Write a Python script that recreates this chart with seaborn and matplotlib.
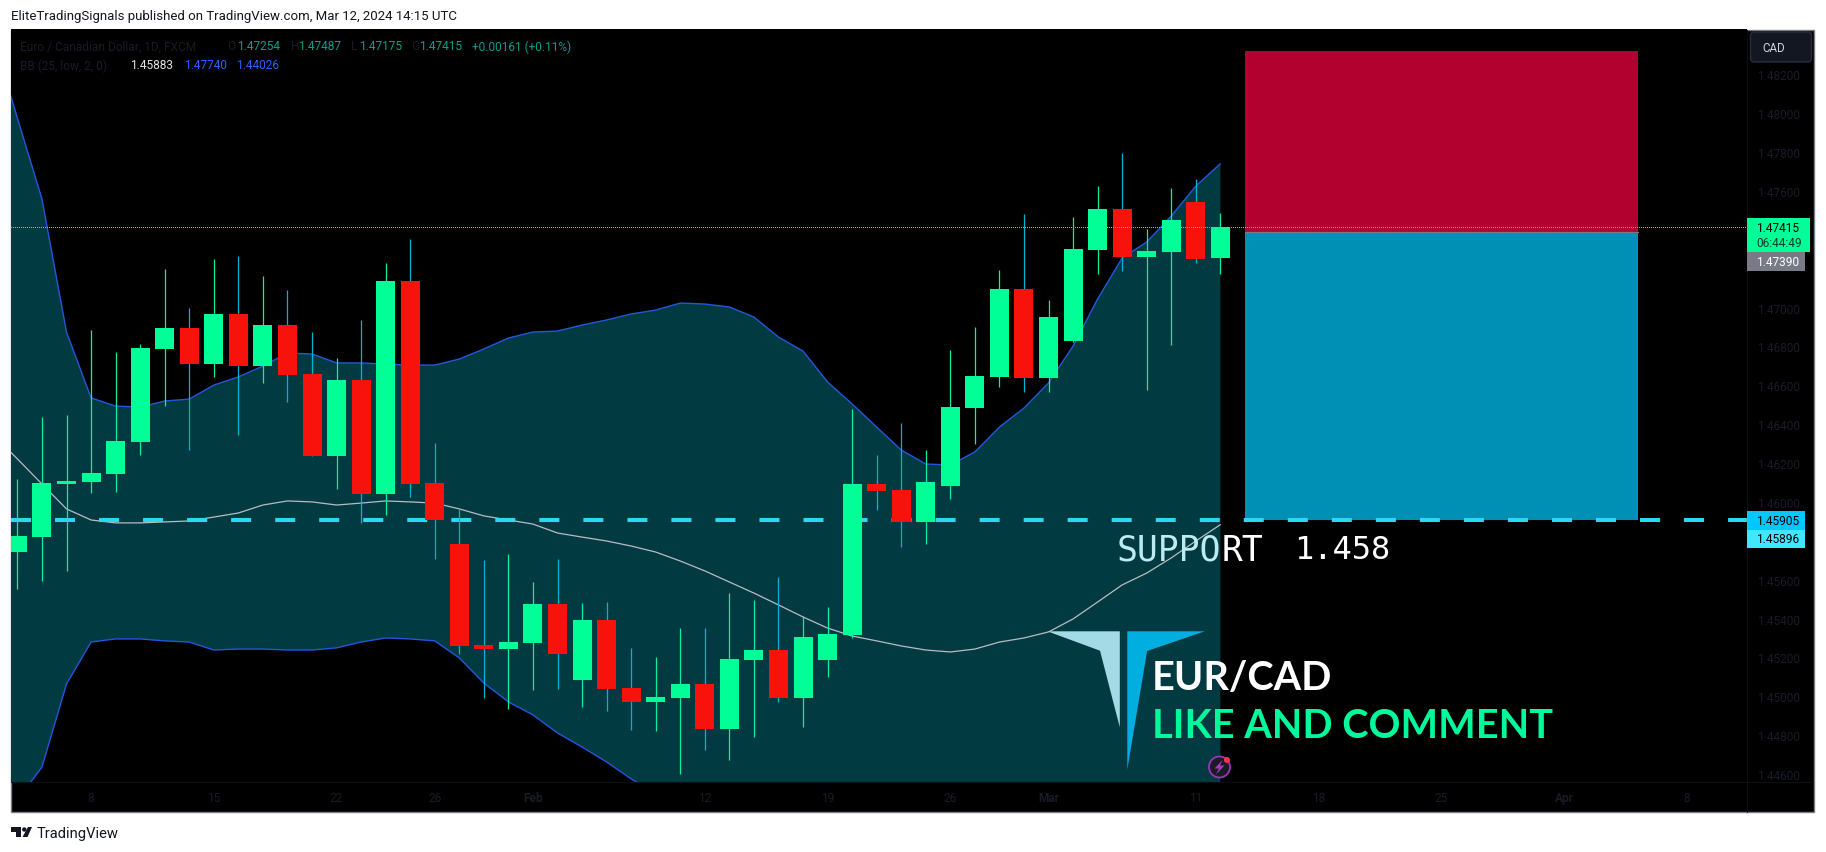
import matplotlib
matplotlib.use('Agg')
import numpy as np
import seaborn as sns
import matplotlib.pyplot as plt
from matplotlib.patches import Rectangle, Polygon, Circle, FancyBboxPatch
from matplotlib.transforms import Affine2D

# daily candles, Jan 3 to Mar 12 2024
opens = [1.45744, 1.45821, 1.46092, 1.46102, 1.46144, 1.46308, 1.46787, 1.46895, 1.46710, 1.46967,
         1.46700, 1.46910, 1.46658, 1.46236, 1.46627, 1.46041, 1.47137, 1.46097, 1.45784, 1.45264,
         1.45244, 1.45275, 1.45475, 1.45084, 1.45393, 1.45043, 1.44971, 1.44991, 1.45063, 1.44832,
         1.45187, 1.45238, 1.44991, 1.45187, 1.45315, 1.46092, 1.46061, 1.45897, 1.46082, 1.46483,
         1.46643, 1.47095, 1.46637, 1.46828, 1.47296, 1.47507, 1.47260, 1.47286, 1.47543, 1.47254]
highs = [1.46117, 1.46436, 1.46447, 1.46885, 1.46771, 1.46813, 1.47198, 1.46998, 1.47249, 1.47264,
         1.47162, 1.47090, 1.46874, 1.46740, 1.46936, 1.47229, 1.47352, 1.46303, 1.45964, 1.45702,
         1.45733, 1.45588, 1.45707, 1.45480, 1.45486, 1.45249, 1.45203, 1.45352, 1.45352, 1.45532,
         1.45496, 1.45614, 1.45413, 1.45460, 1.46478, 1.46241, 1.46406, 1.46267, 1.46781, 1.46900,
         1.47193, 1.47481, 1.47039, 1.47466, 1.47625, 1.47795, 1.47404, 1.47615, 1.47661, 1.47487]
lows = [1.45552, 1.45594, 1.45645, 1.46046, 1.46051, 1.46241, 1.46493, 1.46267, 1.46642, 1.46344,
        1.46611, 1.46514, 1.46236, 1.46066, 1.45892, 1.45933, 1.46025, 1.45707, 1.45218, 1.44991,
        1.44935, 1.45032, 1.45037, 1.44945, 1.44924, 1.44827, 1.44821, 1.44600, 1.44723, 1.44672,
        1.44791, 1.44971, 1.44842, 1.45099, 1.45300, 1.45958, 1.45768, 1.45784, 1.46015, 1.46298,
        1.46591, 1.46565, 1.46565, 1.46823, 1.47172, 1.47188, 1.46576, 1.46807, 1.47229, 1.47175]
closes = [1.45827, 1.46097, 1.46108, 1.46149, 1.46313, 1.46792, 1.46895, 1.46710, 1.46967, 1.46700,
          1.46910, 1.46653, 1.46236, 1.46627, 1.46041, 1.47137, 1.46092, 1.45907, 1.45259, 1.45244,
          1.45280, 1.45475, 1.45218, 1.45393, 1.45037, 1.44971, 1.44996, 1.45063, 1.44832, 1.45192,
          1.45238, 1.44991, 1.45305, 1.45321, 1.46092, 1.46056, 1.45897, 1.46102, 1.46488, 1.46648,
          1.47095, 1.46637, 1.46951, 1.47301, 1.47507, 1.47260, 1.47291, 1.47450, 1.47249, 1.47415]

# bollinger bands, first point sits one bar left of the pane
bb_upper = [1.48392, 1.47975, 1.47558, 1.46874, 1.46535, 1.46493, 1.46488, 1.46519, 1.46529, 1.46601,
            1.46643, 1.46699, 1.46766, 1.46761, 1.46715, 1.46715, 1.46709, 1.46704, 1.46704, 1.46735,
            1.46787, 1.46843, 1.46874, 1.46879, 1.46910, 1.46936, 1.46967, 1.46987, 1.47023, 1.47018,
            1.47003, 1.46951, 1.46848, 1.46776, 1.46617, 1.46504, 1.46385, 1.46267, 1.46195, 1.46190,
            1.46257, 1.46385, 1.46483, 1.46612, 1.46802, 1.47044, 1.47255, 1.47337, 1.47471, 1.47625, 1.47740]
bb_basis = [1.46349, 1.46221, 1.46092, 1.45964, 1.45907, 1.45892, 1.45892, 1.45897, 1.45902, 1.45922,
            1.45943, 1.45984, 1.46005, 1.46000, 1.45984, 1.45994, 1.46005, 1.46000, 1.45994, 1.45964,
            1.45928, 1.45907, 1.45886, 1.45840, 1.45819, 1.45799, 1.45773, 1.45742, 1.45696, 1.45645,
            1.45588, 1.45531, 1.45470, 1.45408, 1.45351, 1.45310, 1.45285, 1.45259, 1.45238, 1.45228,
            1.45243, 1.45279, 1.45300, 1.45331, 1.45398, 1.45485, 1.45573, 1.45634, 1.45712, 1.45799, 1.45883]
bb_lower = [1.44307, 1.44467, 1.44636, 1.45063, 1.45279, 1.45295, 1.45295, 1.45285, 1.45279, 1.45238,
            1.45243, 1.45243, 1.45238, 1.45238, 1.45249, 1.45279, 1.45300, 1.45295, 1.45285, 1.45197,
            1.45068, 1.44971, 1.44904, 1.44811, 1.44739, 1.44662, 1.44575, 1.44497, 1.44369, 1.44271,
            1.44173, 1.44112, 1.44091, 1.44040, 1.44086, 1.44117, 1.44184, 1.44251, 1.44282, 1.44266,
            1.44230, 1.44173, 1.44117, 1.44050, 1.43993, 1.43926, 1.43890, 1.43932, 1.43952, 1.43973, 1.44026]

last_price = 1.47415
entry_price = 1.47390
stop_price = 1.48320
support_price = 1.45905
box_start, box_end = 50, 66

# 1.458, 1.472 and 1.474 sit behind the price labels
y_ticks = [1.446, 1.448, 1.450, 1.452, 1.454, 1.456, 1.460, 1.462, 1.464,
           1.466, 1.468, 1.470, 1.476, 1.478, 1.480, 1.482]
x_ticks = [3, 8, 13, 17, 21, 28, 33, 38, 42, 48, 53, 58, 63, 68]
x_labels = ['8', '15', '22', '26', 'Feb', '12', '19', '26', 'Mar', '11', '18', '25', 'Apr', '8']

GREEN = '#00FF96'
RED = '#F7120C'
WICK_UP = '#0BF09C'
WICK_DOWN = '#00B4D4'
BLUE = '#2157DE'
BAND = '#023A42'
CYAN = '#2BD8F2'
DIM = '#181C27'
INK = '#131722'

W, H = 1826, 853

sns.set_style('dark')
plt.rcParams['font.family'] = ['Roboto', 'DejaVu Sans']
plt.rcParams['lines.scale_dashes'] = False

fig = plt.figure(figsize=(W / 100, H / 100), dpi=100, facecolor='white')
# overlay pieces are placed in image pixels, origin top left
px = Affine2D().scale(1, -1).translate(0, H)

fig.add_artist(Rectangle((10.5, 30.5), 1803.5, 782.5, transform=px, facecolor='black',
                         edgecolor='#7B7E87', linewidth=1, zorder=-1))

ax = fig.add_axes([11 / W, 1 - 783 / H, (1747 - 11) / W, (783 - 30) / H], facecolor='black')
ax.set_xlim(-0.261, 70.45)
ax.set_ylim(1.44559, 1.48433)
ax.grid(False)
for side in ax.spines:
    ax.spines[side].set_visible(False)

bars = np.arange(len(closes))
bb_x = np.arange(-1, len(closes))

ax.fill_between(bb_x, bb_lower, bb_upper, color=BAND, linewidth=0, zorder=1)
sns.lineplot(x=bb_x, y=bb_upper, color=BLUE, linewidth=1.0, ax=ax, zorder=2, errorbar=None)
sns.lineplot(x=bb_x, y=bb_lower, color=BLUE, linewidth=1.0, ax=ax, zorder=2, errorbar=None)
sns.lineplot(x=bb_x, y=bb_basis, color='#B8BBC2', linewidth=0.9, ax=ax, zorder=2, errorbar=None)

# long position tool
ax.fill_between([box_start, box_end], entry_price, stop_price, color='#B2002F', linewidth=0, zorder=2)
ax.fill_between([box_start, box_end], support_price, entry_price, color='#0090B5', linewidth=0, zorder=2)
ax.plot([box_start, box_end], [entry_price, entry_price], color='#787B86', linewidth=0.9, zorder=2.1)

ax.axhline(support_price, color=CYAN, linewidth=2.9, linestyle=(0, (14.4, 17.3)),
           dash_capstyle='butt', zorder=2.5)

is_up = np.array(closes) >= np.array(opens)
ax.vlines(bars, lows, highs, colors=[WICK_UP if u else WICK_DOWN for u in is_up], linewidth=0.9, zorder=3)
ax.bar(bars, np.abs(np.array(closes) - np.array(opens)), bottom=np.minimum(opens, closes), width=0.774,
       color=[GREEN if u else RED for u in is_up], linewidth=0, zorder=4)

ax.axhline(last_price, color=GREEN, linewidth=0.72, linestyle=(0, (0.72, 1.44)),
           dash_capstyle='butt', antialiased=False, zorder=5)

ax.yaxis.tick_right()
ax.set_yticks(y_ticks)
ax.set_yticklabels([f'{t:.5f}' for t in y_ticks])
ax.set_xticks(x_ticks)
ax.set_xticklabels(x_labels)
ax.tick_params(axis='y', length=0, pad=7, labelsize=8.6, labelcolor=DIM)
ax.tick_params(axis='x', length=0, pad=6.5, labelsize=8.6, labelcolor=DIM)
for lab in ax.get_xticklabels():
    if lab.get_text() in ('Feb', 'Mar', 'Apr'):
        lab.set_fontweight('bold')

# pane separators
fig.add_artist(plt.Line2D([1747, 1747], [31, 813], transform=px, color='#0D0E13', linewidth=0.8, zorder=1))
fig.add_artist(plt.Line2D([11, 1813], [783, 783], transform=px, color='#0D0E13', linewidth=0.8, zorder=1))


def put(x, y, s, color=INK, size=8.6, ha='left', **kw):
    fig.text(x, y, s, transform=px, color=color, fontsize=size, ha=ha, va='center', zorder=8, **kw)


# header and legend
put(11, 16.5, 'EliteTradingSignals published on TradingView.com, Mar 12, 2024 14:15 UTC', size=9.5)

put(20.5, 47, 'Euro / Canadian Dollar, 1D, FXCM', color=DIM)
for x, s, c in [(227, 'O', DIM), (237, f'{opens[-1]:.5f}', '#0B9E8C'), (290.5, 'H', DIM), (298.5, f'{highs[-1]:.5f}', '#0B9E8C'),
                (351, 'L', DIM), (359, f'{lows[-1]:.5f}', '#0B9E8C'), (411, 'C', DIM), (419, f'{closes[-1]:.5f}', '#0B9E8C'),
                (471.5, '+0.00161 (+0.11%)', '#0B9E8C')]:
    put(x, 47, s, color=c)
put(20.5, 66, 'BB (25, low, 2, 0)', color=DIM)
put(130.5, 66, f'{bb_basis[-1]:.5f}', color='#E4E4E4')
put(184, 66, f'{bb_upper[-1]:.5f}', color='#2962FF')
put(236.5, 66, f'{bb_lower[-1]:.5f}', color='#2962FF')


# price labels on the right scale
def price_box(y0, y1, x1, color):
    fig.add_artist(Rectangle((1747, y0), x1 - 1747, y1 - y0, transform=px, facecolor=color,
                             linewidth=0, zorder=6))


price_box(219, 253, 1810, GREEN)
put(1777.5, 228.5, f'{last_price:.5f}', color='black', ha='center')
put(1779, 244, '06:44:49', color='#0B3B2C', ha='center')
price_box(253, 272, 1805, '#787B86')
put(1777.5, 262.5, f'{entry_price:.5f}', color='white', ha='center')
price_box(512, 531, 1805, '#00C8FF')
put(1777.5, 521.5, f'{support_price:.5f}', color='black', ha='center')
price_box(531, 549, 1805, '#40E8FF')
put(1777.5, 540, '1.45896', color='black', ha='center')

fig.add_artist(FancyBboxPatch((1753, 35.5), 56, 25, boxstyle='round,pad=2.5,rounding_size=4', transform=px,
                              facecolor=INK, edgecolor='#2A2E39', linewidth=1, zorder=6))
put(1762, 48.5, 'CAD', color='#D1D4DC', size=8.4)

# drawing texts, the band tints the part of the label lying over it
put(1117, 551, 'SUPPO', color='#BCEBF1', size=25, family=['DejaVu Sans Mono'])
put(1117 + 5 * 20.9, 551, 'RT', color='white', size=25, family=['DejaVu Sans Mono'])
put(1294, 551, '1.458', color='white', size=23, family=['DejaVu Sans Mono'])
put(1152, 679, 'EUR/CAD', color='white', size=28.5, family=['Lato'], fontweight='bold')
put(1152, 726.5, 'LIKE AND COMMENT', color='#00F99A', size=28.5, family=['Lato'], fontweight='bold')

# watermark logo
fig.add_artist(Polygon([(1047.4, 632.3), (1119.8, 632.3), (1119.8, 728.3), (1100, 651.7)], transform=px,
                       facecolor='#A3DAE5', linewidth=0, zorder=7))
fig.add_artist(Polygon([(1127.3, 632.3), (1204.8, 632.3), (1147.1, 652), (1127.3, 770.7)], transform=px,
                       facecolor='#00AEE0', linewidth=0, zorder=7))

# earnings style marker
fig.add_artist(Circle((1219.5, 768), 10.5, transform=px, facecolor='#1B1B26', edgecolor='#9C35B5',
                      linewidth=1.3, zorder=7))
fig.add_artist(Polygon([(1222.5, 761), (1214.5, 769.5), (1219, 769.5), (1216, 775.5), (1224.5, 766.5), (1220, 766.5)],
                       transform=px, facecolor='#A13BC0', linewidth=0, zorder=7.5))
fig.add_artist(Circle((1227, 761), 3, transform=px, facecolor='#F23645', linewidth=0, zorder=7.5))

# footer logo
fig.add_artist(Polygon([(11, 828), (20.5, 828), (20.5, 838), (16, 838), (16, 832.5), (11, 832.5)], transform=px,
                       facecolor=INK, linewidth=0))
fig.add_artist(Circle((24.3, 830.5), 2.2, transform=px, facecolor=INK, linewidth=0))
fig.add_artist(Polygon([(28, 828), (32, 828), (27.5, 838), (22.5, 838)], transform=px, facecolor=INK, linewidth=0))
put(37, 834, 'TradingView', size=10.6)

fig.savefig('out.png', dpi=100, facecolor='white')
